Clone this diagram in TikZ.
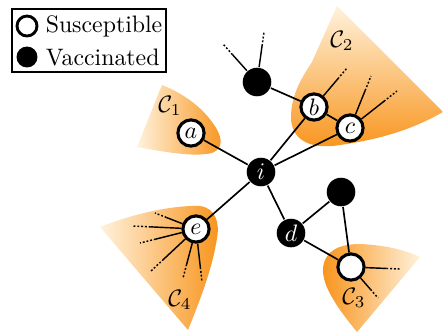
\documentclass[tikz,border=0pt]{standalone}
\usepackage{tikz}
\usetikzlibrary{calc}
\usepackage{amsmath}
\definecolor{deeporange}{RGB}{248,148,28}
\definecolor{paleorange}{RGB}{255,242,220}

\begin{document}
\begin{tikzpicture} [x=0.42pt, y=-0.42pt, line width=0.7pt,
        sus/.style={circle, draw, fill=white, line width=1.3pt, minimum size=11pt, inner sep=0pt},
        vac/.style={circle, fill=black, text=white, minimum size=12pt, inner sep=0pt},
        stub/.style={line width=0.6pt},
        stubend/.style={line width=0.6pt, dash pattern=on 0.8pt off 0.8pt}]
        \useasboundingbox (0,0) rectangle (443,333);

        % communities
        \shade[left color=paleorange, right color=deeporange]
            (162,85) -- (137,147) .. controls (170,153) and (195,157) .. (212,153)
            .. controls (225,148) and (222,135) .. (212,122)
            .. controls (200,105) and (180,92) .. (162,85);
        \shade[top color=paleorange, bottom color=deeporange]
            (337,6) -- (443,112) .. controls (420,125) and (390,138) .. (340,145)
            .. controls (310,150) and (290,140) .. (291,115)
            .. controls (292,95) and (300,80) .. (312,62) -- cycle;
        \shade[left color=deeporange, right color=paleorange]
            (357,332) .. controls (335,305) and (322,285) .. (323,268)
            .. controls (325,250) and (340,244) .. (360,244)
            .. controls (385,245) and (405,250) .. (420,257) -- cycle;
        \shade[left color=paleorange, right color=deeporange]
            (188,330) -- (100,227) .. controls (130,215) and (170,205) .. (200,206)
            .. controls (215,208) and (220,222) .. (217,238)
            .. controls (212,270) and (200,300) .. (188,330);

        \node at (170,106) {$\mathcal{C}_1$};
        \node at (342,41) {$\mathcal{C}_2$};
        \node at (354,298) {$\mathcal{C}_3$};
        \node at (180,300) {$\mathcal{C}_4$};

        % individuals
        \node[vac] (i) at (261,172) {$i$};
        \node[vac] (d) at (291,233) {$d$};
        \node[vac] (t) at (257,82) {};
        \node[vac] (r) at (341,192) {};
        \node[sus] (a) at (191,133) {$a$};
        \node[sus] (b) at (314,107) {$b$};
        \node[sus] (c) at (350,128) {$c$};
        \node[sus] (e) at (196,229) {$e$};
        \node[sus] (f) at (351,267) {};

        % contacts
        \draw (i) -- (a);
        \draw (i) -- (b);
        \draw (i) -- (c);
        \draw (i) -- (e);
        \draw (i) -- (d);
        \draw (t) -- (b);
        \draw (b) -- (c);
        \draw (d) -- (r);
        \draw (d) -- (f);
        \draw (r) -- (f);

        % contacts leaving the picture
        \foreach \src/\x/\y [count=\k] in {t/223/44, t/264/32, b/347/68, c/371/76, c/397/91,
                e/155/213, e/133/226, e/140/243, e/151/271, e/183/278, e/202/282,
                f/400/269, f/378/298} {
            \coordinate (s\k) at (\x,\y);
            \draw[stub] (\src) -- ($(\src)!0.72!(s\k)$);
            \draw[stubend] ($(\src)!0.72!(s\k)$) -- (s\k);
        }

        % legend
        \draw[line width=0.5pt] (12,9) rectangle (166,72);
        \node[sus, minimum size=8.4pt, line width=1.2pt] (lsus) at (27,26) {};
        \node[vac, minimum size=8.8pt] (lvac) at (27,57) {};
        \node[anchor=west] at (37,26) {Susceptible};
        \node[anchor=west] at (37,57) {Vaccinated};
    \end{tikzpicture}
\end{document}
